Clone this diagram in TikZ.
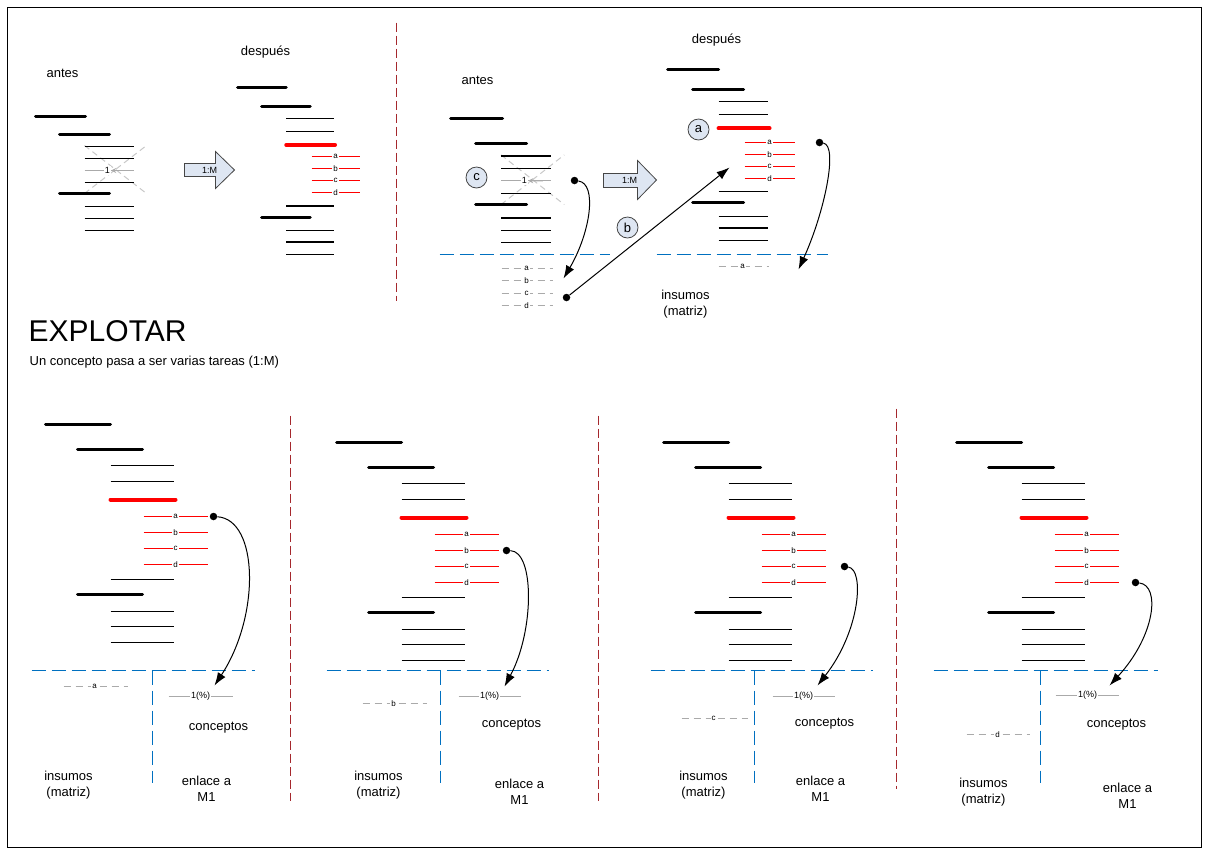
\documentclass[tikz,border=0pt]{standalone}
\usepackage{fontspec}
\setmainfont{Liberation Sans}
\usetikzlibrary{arrows.meta}
\definecolor{sepred}{RGB}{165,40,45}
\definecolor{lineblue}{RGB}{0,112,192}
\definecolor{boxfill}{RGB}{222,230,242}
\definecolor{boxline}{RGB}{70,70,70}
\definecolor{subgray}{RGB}{170,170,170}
\definecolor{crossgray}{RGB}{200,200,200}

\begin{document}
\begin{tikzpicture}[x=1pt,y=-1pt,
    thickbar/.style={draw=black,line width=3pt,line cap=round},
    thinbar/.style={draw=black,line width=1.2pt},
    redbar/.style={draw=red,line width=4pt,line cap=round},
    redsub/.style={draw=red,line width=1.2pt},
    graysub/.style={draw=subgray,line width=1pt,dash pattern=on 7pt off 5pt},
    graysolid/.style={draw=subgray,line width=1.1pt},
    cross/.style={draw=crossgray,line width=1pt,dash pattern=on 6pt off 4pt},
    sep/.style={draw=sepred,line width=1.2pt,dash pattern=on 9pt off 4pt},
    blueline/.style={draw=lineblue,line width=1.3pt,dash pattern=on 14pt off 6pt},
    tag/.style={fill=white,inner sep=1pt,font=\fontsize{8}{9}\selectfont},
    pct/.style={fill=white,inner sep=1pt,font=\fontsize{9}{10}\selectfont},
    lbl/.style={font=\fontsize{13}{16}\selectfont,align=center,inner sep=0pt},
    circlbl/.style={circle,draw=boxline,fill=boxfill,line width=0.8pt,
        minimum size=21pt,inner sep=0pt,font=\fontsize{13}{14}\selectfont},
    linkdot/.style={circle,fill=black,inner sep=0pt,minimum size=7.5pt},
    link/.style={draw=black,line width=1pt,-{Latex[length=13pt,width=9pt]}},
    fatarrow/.style={draw=boxline,fill=boxfill,line width=0.8pt},
    afterstack/.pic={
        \draw[thickbar] (0,0) -- (65,0);
        \draw[thickbar] (32,25) -- (97,25);
        \draw[thinbar] (65,41) -- (128,41) (65,57) -- (128,57);
        \draw[redbar] (65,75) -- (130,75);
        \draw[thinbar] (65,155) -- (128,155);
        \draw[thickbar] (32,170) -- (97,170);
        \draw[thinbar] (65,187) -- (128,187) (65,202) -- (128,202)
            (65,218) -- (128,218);
    },
    beforestack/.pic={
        \draw[cross] (25,11) -- (87,59) (25,59) -- (87,11);
        \draw[thickbar] (0,0) -- (50,0);
        \draw[thinbar] (25,12) -- (74,12) (25,24) -- (74,24);
        \draw[graysolid] (25,36) -- (74,36);
        \node[pct] (-one) at (48,36) {1};
        \draw[graysolid,-{Stealth[length=5pt,width=5pt]}] (66,36) -- (-one.east);
        \draw[thinbar] (25,48) -- (74,48);
        \draw[thickbar] (0,59) -- (50,59);
        \draw[thinbar] (25,72) -- (74,72) (25,84) -- (74,84) (25,96) -- (74,96);
    }]

\useasboundingbox (0,0) rectangle (1209,855);
\begin{scope}[shift={(0.5,0.5)}]
\draw[draw=black,line width=1.3pt] (7,7) rectangle (1201,847);

% upper left: antes / despues
\node[lbl] (antesA) at (62,73) {antes};
\node[lbl] (despuesA) at (265,52) {después};
\draw[thickbar] (35,116) -- (85,116);
\pic (b0) at (59,134) {beforestack};
\draw[fatarrow] (184,163) -- (215,163) -- (215,151) -- (234,169.5) -- (215,188)
    -- (215,176) -- (184,176) -- cycle;
\node[pct,fill=none] (flechaA) at (209,169.5) {1:M};
\pic[xscale=0.75,yscale=0.765] (s0) at (237,87) {afterstack};
\foreach \y/\t in {156/a,168/b,180/c,192/d}{
    \draw[redsub] (311,\y) -- (359,\y);
    \node[tag] (s0\t) at (335,\y) {\t};
}

\draw[sep] (396,22) -- (396,300);

% upper right
\node[lbl] (antesB) at (477,80) {antes};
\node[lbl] (despuesB) at (716,40) {después};
\draw[thickbar] (450,118) -- (502,118);
\pic[xscale=1.02,yscale=1.035] (b1) at (475,143) {beforestack};
\node[circlbl] (c) at (476,177) {c};
\draw[fatarrow] (603,173) -- (637,173) -- (637,160) -- (656,179.5) -- (637,199)
    -- (637,187) -- (603,187) -- cycle;
\node[pct,fill=none] (flechaB) at (629,179.5) {1:M};
\pic[scale=0.785] (s1) at (667,69) {afterstack};
\foreach \y/\t in {142/a,154/b,166/c,178/d}{
    \draw[redsub] (744,\y) -- (794,\y);
    \node[tag] (s1\t) at (769,\y) {\t};
}
\node[circlbl] (a) at (698,129) {a};
\node[circlbl] (b) at (627,227) {b};

\draw[blueline] (439,254) -- (609,254);
\draw[blueline] (656,254) -- (827,254);
\foreach \y/\t in {268/a,280/b,293/c,305/d}{
    \draw[graysub] (501,\y) -- (552,\y);
    \node[tag] (in\t) at (526,\y) {\t};
}
\draw[graysub] (718,266) -- (768,266);
\node[tag] (ina2) at (742,266) {a};
\node[lbl] (insumosB) at (685,303.5) {insumos\\(matriz)};

\node[linkdot] (d1) at (574,180) {};
\node[linkdot] (d2) at (566,297) {};
\node[linkdot] (d3) at (819,142) {};
\coordinate (t1) at (563,278);
\coordinate (t2) at (729,167);
\coordinate (t3) at (798,269);
\draw[link] (d1) .. controls (597,183) and (590,232) .. (t1);
\draw[link] (d2) -- (t2);
\draw[link] (d3) .. controls (838,145) and (824,212) .. (t3);

% title
\node[anchor=base west,inner sep=0pt,font=\fontsize{30}{32}\selectfont]
    (titulo) at (28,341) {EXPLOTAR};
\node[anchor=base west,inner sep=0pt,font=\fontsize{13}{15}\selectfont]
    (subtitulo) at (29,365) {Un concepto pasa a ser varias tareas (1:M)};

% lower panels
\draw[sep] (290,415) -- (290,800);
\draw[sep] (598,415) -- (598,800);
\draw[sep] (896,408) -- (896,788);

% panel 1
\pic (p1) at (45,424) {afterstack};
\foreach \y/\t in {516/a,532/b,548/c,564/d}{
    \draw[redsub] (143,\y) -- (207,\y);
    \node[tag] (p1\t) at (175,\y) {\t};
}
\draw[blueline] (31,670) -- (254,670);
\draw[blueline] (152,670) -- (152,782);
\draw[graysub] (63,686) -- (127,686);
\node[tag] (q1) at (94,686) {a};
\draw[graysolid] (168,696) -- (232,696);
\node[pct] (r1) at (200,696) {1(\%)};
\node[lbl] (conc1) at (218,727) {conceptos};
\node[lbl] (ins1) at (68,785) {insumos\\(matriz)};
\node[lbl] (enl1) at (206,788) {enlace a\\M1};
\node[linkdot] (e1) at (213,516) {};
\coordinate (f1) at (214,685);
\draw[link] (e1) .. controls (258,519) and (260,615) .. (f1);

% panel 2
\pic (p2) at (336,442) {afterstack};
\foreach \y/\t in {534/a,550/b,566/c,582/d}{
    \draw[redsub] (434,\y) -- (498,\y);
    \node[tag] (p2\t) at (466,\y) {\t};
}
\draw[blueline] (326,670) -- (548,670);
\draw[blueline] (440,670) -- (440,782);
\draw[graysub] (362,703) -- (426,703);
\node[tag] (q2) at (393,703) {b};
\draw[graysolid] (458,696) -- (520,696);
\node[pct] (r2) at (489,696) {1(\%)};
\node[lbl] (conc2) at (511,724) {conceptos};
\node[lbl] (ins2) at (378,784.5) {insumos\\(matriz)};
\node[lbl] (enl2) at (519,791) {enlace a\\M1};
\node[linkdot] (e2) at (506,550) {};
\coordinate (f2) at (504,686);
\draw[link] (e2) .. controls (534,551) and (534,630) .. (f2);

% panel 3
\pic (p3) at (663,442) {afterstack};
\foreach \y/\t in {534/a,550/b,566/c,582/d}{
    \draw[redsub] (761,\y) -- (825,\y);
    \node[tag] (p3\t) at (793,\y) {\t};
}
\draw[blueline] (650,670) -- (872,670);
\draw[blueline] (754,670) -- (754,782);
\draw[graysub] (681,718) -- (747,718);
\node[tag] (q3) at (713,718) {c};
\draw[graysolid] (772,696) -- (834,696);
\node[pct] (r3) at (803,696) {1(\%)};
\node[lbl] (conc3) at (824,723) {conceptos};
\node[lbl] (ins3) at (703,784.5) {insumos\\(matriz)};
\node[lbl] (enl3) at (820,788) {enlace a\\M1};
\node[linkdot] (e3) at (844,566) {};
\coordinate (f3) at (817,685);
\draw[link] (e3) .. controls (864,569) and (860,630) .. (f3);

% panel 4
\pic (p4) at (956,442) {afterstack};
\foreach \y/\t in {534/a,550/b,566/c,582/d}{
    \draw[redsub] (1054,\y) -- (1118,\y);
    \node[tag] (p4\t) at (1086,\y) {\t};
}
\draw[blueline] (933,670) -- (1157,670);
\draw[blueline] (1040,670) -- (1040,782);
\draw[graysub] (966,734) -- (1029,734);
\node[tag] (q4) at (997,734) {d};
\draw[graysolid] (1055,695) -- (1118,695);
\node[pct] (r4) at (1087,695) {1(\%)};
\node[lbl] (conc4) at (1116,724) {conceptos};
\node[lbl] (ins4) at (983,792) {insumos\\(matriz)};
\node[lbl] (enl4) at (1127,795) {enlace a\\M1};
\node[linkdot] (e4) at (1135,582) {};
\coordinate (f4) at (1109,685);
\draw[link] (e4) .. controls (1160,585) and (1155,635) .. (f4);
\end{scope}

\end{tikzpicture}
\end{document}
